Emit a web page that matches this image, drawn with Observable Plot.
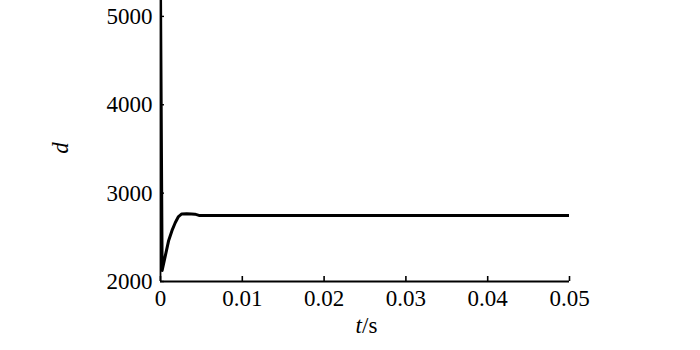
<!DOCTYPE html>
<html>
<head>
<meta charset="utf-8">
<script src="https://cdn.jsdelivr.net/npm/d3@7"></script>
<script src="https://cdn.jsdelivr.net/npm/@observablehq/plot@0.6"></script>
<style>
  html, body { margin: 0; padding: 0; background: #fff; }
  #chart svg { font-family: "Liberation Serif", "Times New Roman", serif; }
</style>
</head>
<body>
<div id="chart"></div>
<script>
// time (s)
const tValues = [0, 0.0002, 0.0006, 0.001, 0.0014, 0.0018, 0.0022, 0.0026, 0.0032, 0.0038, 0.0042, 0.0047, 0.05];
// d values
const dValues = [5300, 2125, 2295, 2465, 2575, 2665, 2735, 2765, 2768, 2765, 2762, 2748, 2748];
const xTicks = [0, 0.01, 0.02, 0.03, 0.04, 0.05];
const yTicks = [2000, 3000, 4000, 5000];
const xLabel = ["t", "/s"];
const yLabel = "d";

const data = tValues.map((t, i) => ({t, d: dValues[i]}));

const chart = Plot.plot({
  width: 700,
  height: 350,
  marginLeft: 160,
  marginRight: 131,
  marginTop: 0,
  marginBottom: 69,
  style: {fontFamily: "Liberation Serif, Times New Roman, serif", fontSize: "23px", color: "#000", background: "#fff"},
  x: {domain: [0, 0.05], label: null},
  y: {domain: [2000, 5180], label: null},
  marks: [
    Plot.ruleY([2000], {x1: 0, x2: 0.05, stroke: "#000", strokeWidth: 1.8}),
    Plot.ruleX([0], {stroke: "#000", strokeWidth: 1.8}),
    Plot.axisX(xTicks, {tickSize: -5, text: null, strokeWidth: 1.6, label: null}),
    Plot.axisX(xTicks, {tickSize: 0, tickPadding: 8, tickFormat: d => String(d), fontSize: 23, label: null}),
    Plot.axisY(yTicks, {tickSize: -4, text: null, strokeWidth: 1.4, label: null}),
    Plot.axisY(yTicks, {tickSize: 0, tickPadding: 8, tickFormat: d => String(d), fontSize: 23, label: null}),
    Plot.line(data, {x: "t", y: "d", stroke: "#000", strokeWidth: 3, clip: true}),
    Plot.text([xLabel[0]], {frameAnchor: "bottom", dx: -3, dy: 51, textAnchor: "end", fontStyle: "italic", fontSize: 23, lineAnchor: "bottom"}),
    Plot.text([xLabel[1]], {frameAnchor: "bottom", dx: -3, dy: 51, textAnchor: "start", fontSize: 23, lineAnchor: "bottom"}),
    Plot.text([yLabel], {frameAnchor: "left", dx: -100, dy: 7, rotate: -90, fontStyle: "italic", fontSize: 23, textAnchor: "middle", lineAnchor: "middle"})
  ]
});
document.getElementById("chart").appendChild(chart);
</script>
</body>
</html>
